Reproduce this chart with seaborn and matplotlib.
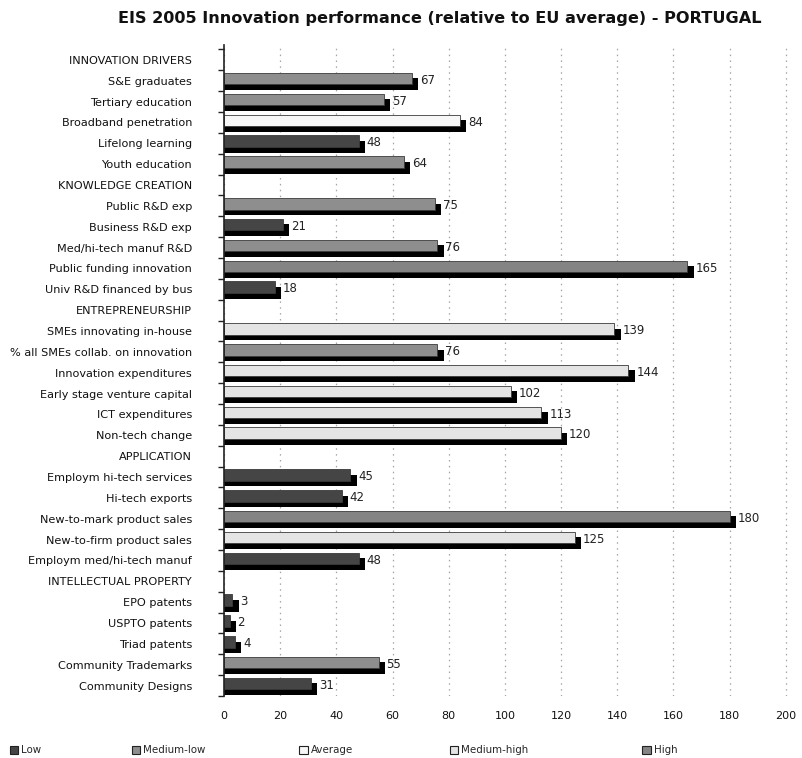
import matplotlib
matplotlib.use("Agg")
import matplotlib.pyplot as plt
from matplotlib.patches import Patch
import seaborn as sns
import pandas as pd

# Row labels, top to bottom (section headers carry no bar)
rows = [
    "INNOVATION DRIVERS", "S&E graduates", "Tertiary education", "Broadband penetration",
    "Lifelong learning", "Youth education",
    "KNOWLEDGE CREATION", "Public R&D exp", "Business R&D exp", "Med/hi-tech manuf R&D",
    "Public funding innovation", "Univ R&D financed by bus",
    "ENTREPRENEURSHIP", "SMEs innovating in-house", "% all SMEs collab. on innovation",
    "Innovation expenditures", "Early stage venture capital", "ICT expenditures", "Non-tech change",
    "APPLICATION", "Employm hi-tech services", "Hi-tech exports", "New-to-mark product sales",
    "New-to-firm product sales", "Employm med/hi-tech manuf",
    "INTELLECTUAL PROPERTY", "EPO patents", "USPTO patents", "Triad patents",
    "Community Trademarks", "Community Designs",
]

indicators = [
    "S&E graduates", "Tertiary education", "Broadband penetration", "Lifelong learning", "Youth education",
    "Public R&D exp", "Business R&D exp", "Med/hi-tech manuf R&D", "Public funding innovation",
    "Univ R&D financed by bus",
    "SMEs innovating in-house", "% all SMEs collab. on innovation", "Innovation expenditures",
    "Early stage venture capital", "ICT expenditures", "Non-tech change",
    "Employm hi-tech services", "Hi-tech exports", "New-to-mark product sales",
    "New-to-firm product sales", "Employm med/hi-tech manuf",
    "EPO patents", "USPTO patents", "Triad patents", "Community Trademarks", "Community Designs",
]
scores = [67, 57, 84, 48, 64,
          75, 21, 76, 165, 18,
          139, 76, 144, 102, 113, 120,
          45, 42, 180, 125, 48,
          3, 2, 4, 55, 31]
levels = ["Medium-low", "Medium-low", "Average", "Low", "Medium-low",
          "Medium-low", "Low", "Medium-low", "High", "Low",
          "Medium-high", "Medium-low", "Medium-high", "Medium-high", "Medium-high", "Medium-high",
          "Low", "Low", "High", "Medium-high", "Low",
          "Low", "Low", "Low", "Medium-low", "Low"]

level_names = ["Low", "Medium-low", "Average", "Medium-high", "High"]
level_colors = ["#454545", "#8e8e8e", "#f7f7f7", "#e4e4e4", "#848484"]

df = pd.DataFrame({"indicator": indicators, "score": scores, "level": levels})
df["shadow"] = df["score"] + 2.2

sns.set_theme(style="white")
plt.rcParams["font.family"] = ["DejaVu Sans"]

fig = plt.figure(figsize=(8.03, 7.58), dpi=100)
ax = fig.add_axes([0.279, 0.0818, 0.703, 0.859])

bar_h = 0.56

# Drop shadow behind each bar
n0 = len(ax.patches)
sns.barplot(data=df, x="shadow", y="indicator", order=rows, orient="h",
            color="black", width=bar_h, ax=ax, saturation=1, linewidth=0)
for p in ax.patches[n0:]:
    p.set_y(p.get_y() + 0.17)
    p.set_facecolor("black")

# Coloured bars
n1 = len(ax.patches)
sns.barplot(data=df, x="score", y="indicator", hue="level", order=rows,
            hue_order=level_names, palette=dict(zip(level_names, level_colors)),
            dodge=False, orient="h", width=bar_h, ax=ax, saturation=1,
            edgecolor="#3a3a3a", linewidth=0.6, legend=False)
for p in ax.patches[n1:]:
    p.set_y(p.get_y() - 0.1)

# Value labels
for name, v in zip(indicators, scores):
    y = rows.index(name)
    ax.text(v + 2.8, y - 0.02, str(v), va="center", ha="left", fontsize=8.5, color="#222222")

ax.set_xlim(0, 201)
ax.set_ylim(30.5, -0.72)
ax.set_xticks(range(0, 201, 20))
ax.set_xlabel("")
ax.set_ylabel("")
ax.grid(axis="x", linestyle=(0, (1.2, 3.5)), color="#a5a5a5", linewidth=0.9)
ax.grid(axis="y", visible=False)
ax.set_axisbelow(True)

for s in ["top", "right", "bottom"]:
    ax.spines[s].set_visible(False)
ax.spines["left"].set_color("#222222")
ax.spines["left"].set_linewidth(1.2)

ax.tick_params(axis="y", which="major", length=0, pad=23, labelsize=8.1, labelcolor="#111111")
ax.set_yticks([i + 0.5 for i in range(-1, len(rows))], minor=True)
ax.tick_params(axis="y", which="minor", length=4, width=1, color="#222222", left=True, direction="out")
ax.tick_params(axis="x", length=0, pad=11, labelsize=8, labelcolor="#111111")

fig.suptitle("EIS 2005 Innovation performance (relative to EU average) - PORTUGAL",
             x=0.548, y=0.985, fontsize=11.6, fontweight="bold", color="#111111")

# Legend entries spread along the bottom
leg_x = [0.003, 0.155, 0.364, 0.551, 0.791]
for name, col, lx in zip(level_names, level_colors, leg_x):
    h = Patch(facecolor=col, edgecolor="#222222", linewidth=0.8)
    fig.legend([h], [name], loc="lower left", bbox_to_anchor=(lx, -0.006), frameon=False,
               fontsize=7.4, handlelength=0.8, handleheight=0.8, handletextpad=0.3,
               borderpad=0.2)

fig.savefig("out.png", dpi=100)
